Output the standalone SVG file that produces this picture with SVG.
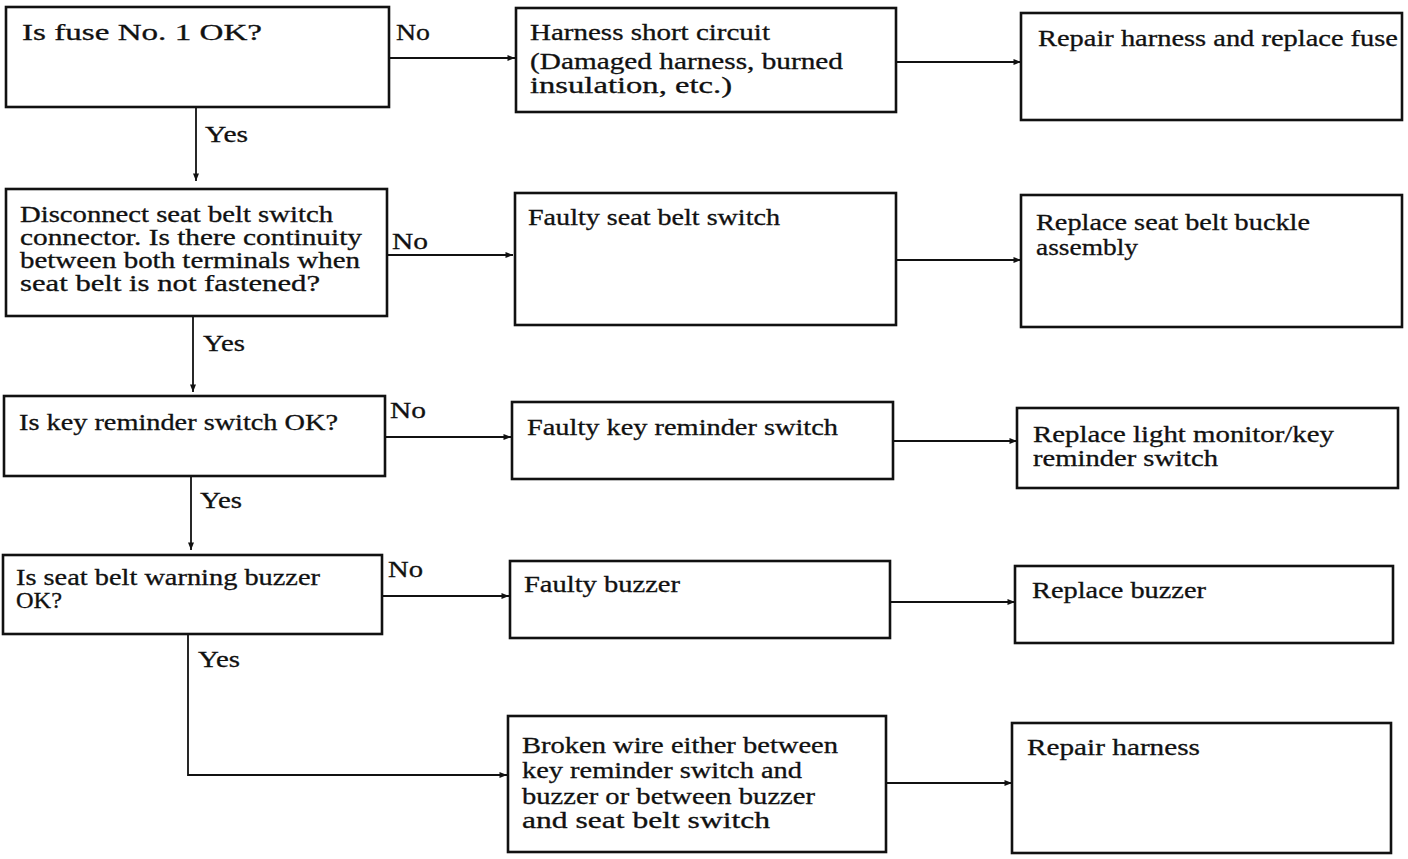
<svg xmlns="http://www.w3.org/2000/svg" width="1408" height="859" viewBox="0 0 1408 859">
  <style>
    .box { fill: #fff; stroke: #111; stroke-width: 2.6; }
    .lbl { font-family: "Liberation Serif", "Times New Roman", serif; font-size: 23px; fill: #111; stroke: #111; stroke-width: 0.3; }
    .wire { fill: none; stroke: #111; stroke-width: 1.8; }
  </style>
  <defs>
    <marker id="arrow" viewBox="0 0 10 8" refX="10" refY="4" markerWidth="8" markerHeight="6" markerUnits="userSpaceOnUse" orient="auto">
      <path d="M0,0 L10,4 L0,8 Z" fill="#111"/>
    </marker>
  </defs>
  <rect width="1408" height="859" fill="#fff"/>

  <!-- connectors -->
  <g id="connectors">
    <path class="wire" d="M389,58 H515" marker-end="url(#arrow)"/>
    <path class="wire" d="M896,62 H1021" marker-end="url(#arrow)"/>
    <path class="wire" d="M196,107 V181" marker-end="url(#arrow)"/>
    <path class="wire" d="M387,255 H513" marker-end="url(#arrow)"/>
    <path class="wire" d="M896,260 H1021" marker-end="url(#arrow)"/>
    <path class="wire" d="M193,316 V392" marker-end="url(#arrow)"/>
    <path class="wire" d="M385,437 H511" marker-end="url(#arrow)"/>
    <path class="wire" d="M893,441 H1017" marker-end="url(#arrow)"/>
    <path class="wire" d="M191,476 V550" marker-end="url(#arrow)"/>
    <path class="wire" d="M382,596 H509" marker-end="url(#arrow)"/>
    <path class="wire" d="M890,602 H1015" marker-end="url(#arrow)"/>
    <path class="wire" d="M188,634 V775 H507" marker-end="url(#arrow)"/>
    <path class="wire" d="M886,783 H1012" marker-end="url(#arrow)"/>
    <text class="lbl" x="396" y="40" textLength="34" lengthAdjust="spacingAndGlyphs">No</text>
    <text class="lbl" x="205" y="142" textLength="43" lengthAdjust="spacingAndGlyphs">Yes</text>
    <text class="lbl" x="392" y="249" textLength="36" lengthAdjust="spacingAndGlyphs">No</text>
    <text class="lbl" x="203" y="351" textLength="42" lengthAdjust="spacingAndGlyphs">Yes</text>
    <text class="lbl" x="390" y="418" textLength="36" lengthAdjust="spacingAndGlyphs">No</text>
    <text class="lbl" x="200" y="508" textLength="42" lengthAdjust="spacingAndGlyphs">Yes</text>
    <text class="lbl" x="388" y="577" textLength="35" lengthAdjust="spacingAndGlyphs">No</text>
    <text class="lbl" x="198" y="667" textLength="42" lengthAdjust="spacingAndGlyphs">Yes</text>
  </g>

  <!-- decision column -->
  <g id="q-fuse">
    <rect class="box" x="6" y="7" width="383" height="100"/>
    <text class="lbl" x="22" y="40" textLength="240" lengthAdjust="spacingAndGlyphs">Is fuse No. 1 OK?</text>
  </g>
  <g id="q-seatbelt-switch">
    <rect class="box" x="6" y="189" width="381" height="127"/>
    <text class="lbl" x="20" y="222" textLength="313" lengthAdjust="spacingAndGlyphs">Disconnect seat belt switch</text>
    <text class="lbl" x="20" y="245" textLength="342" lengthAdjust="spacingAndGlyphs">connector. Is there continuity</text>
    <text class="lbl" x="20" y="268" textLength="340" lengthAdjust="spacingAndGlyphs">between both terminals when</text>
    <text class="lbl" x="20" y="291" textLength="300" lengthAdjust="spacingAndGlyphs">seat belt is not fastened?</text>
  </g>
  <g id="q-key-reminder">
    <rect class="box" x="4" y="396" width="381" height="80"/>
    <text class="lbl" x="19" y="430" textLength="319" lengthAdjust="spacingAndGlyphs">Is key reminder switch OK?</text>
  </g>
  <g id="q-buzzer">
    <rect class="box" x="3" y="555" width="379" height="79"/>
    <text class="lbl" x="16" y="585" textLength="304" lengthAdjust="spacingAndGlyphs">Is seat belt warning buzzer</text>
    <text class="lbl" x="16" y="608" textLength="46" lengthAdjust="spacingAndGlyphs">OK?</text>
  </g>

  <!-- cause column -->
  <g id="c-short">
    <rect class="box" x="516" y="8" width="380" height="104"/>
    <text class="lbl" x="530" y="40" textLength="240" lengthAdjust="spacingAndGlyphs">Harness short circuit</text>
    <text class="lbl" x="530" y="69" textLength="313" lengthAdjust="spacingAndGlyphs">(Damaged harness, burned</text>
    <text class="lbl" x="530" y="93" textLength="202" lengthAdjust="spacingAndGlyphs">insulation, etc.)</text>
  </g>
  <g id="c-seatbelt-switch">
    <rect class="box" x="515" y="193" width="381" height="132"/>
    <text class="lbl" x="528" y="225" textLength="252" lengthAdjust="spacingAndGlyphs">Faulty seat belt switch</text>
  </g>
  <g id="c-key-reminder">
    <rect class="box" x="512" y="402" width="381" height="77"/>
    <text class="lbl" x="527" y="435" textLength="311" lengthAdjust="spacingAndGlyphs">Faulty key reminder switch</text>
  </g>
  <g id="c-buzzer">
    <rect class="box" x="510" y="561" width="380" height="77"/>
    <text class="lbl" x="524" y="592" textLength="156" lengthAdjust="spacingAndGlyphs">Faulty buzzer</text>
  </g>
  <g id="c-broken-wire">
    <rect class="box" x="508" y="716" width="378" height="136"/>
    <text class="lbl" x="522" y="753" textLength="316" lengthAdjust="spacingAndGlyphs">Broken wire either between</text>
    <text class="lbl" x="522" y="778" textLength="280" lengthAdjust="spacingAndGlyphs">key reminder switch and</text>
    <text class="lbl" x="522" y="804" textLength="293" lengthAdjust="spacingAndGlyphs">buzzer or between buzzer</text>
    <text class="lbl" x="522" y="828" textLength="248" lengthAdjust="spacingAndGlyphs">and seat belt switch</text>
  </g>

  <!-- remedy column -->
  <g id="r-fuse">
    <rect class="box" x="1021" y="13" width="381" height="107"/>
    <text class="lbl" x="1038" y="46" textLength="360" lengthAdjust="spacingAndGlyphs">Repair harness and replace fuse</text>
  </g>
  <g id="r-buckle">
    <rect class="box" x="1021" y="195" width="381" height="132"/>
    <text class="lbl" x="1036" y="230" textLength="274" lengthAdjust="spacingAndGlyphs">Replace seat belt buckle</text>
    <text class="lbl" x="1036" y="255" textLength="102" lengthAdjust="spacingAndGlyphs">assembly</text>
  </g>
  <g id="r-key-reminder">
    <rect class="box" x="1017" y="408" width="381" height="80"/>
    <text class="lbl" x="1033" y="442" textLength="301" lengthAdjust="spacingAndGlyphs">Replace light monitor/key</text>
    <text class="lbl" x="1033" y="466" textLength="185" lengthAdjust="spacingAndGlyphs">reminder switch</text>
  </g>
  <g id="r-buzzer">
    <rect class="box" x="1015" y="566" width="378" height="77"/>
    <text class="lbl" x="1032" y="598" textLength="174" lengthAdjust="spacingAndGlyphs">Replace buzzer</text>
  </g>
  <g id="r-harness">
    <rect class="box" x="1012" y="723" width="379" height="130"/>
    <text class="lbl" x="1027" y="755" textLength="173" lengthAdjust="spacingAndGlyphs">Repair harness</text>
  </g>
</svg>
